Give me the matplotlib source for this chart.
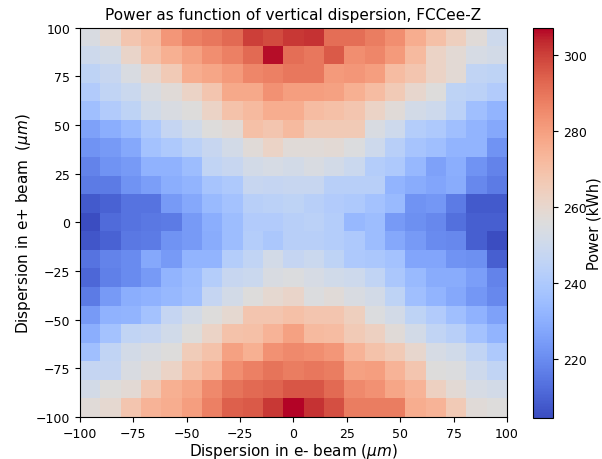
import numpy as np
import matplotlib
matplotlib.use("Agg")
import matplotlib.pyplot as plt

# power (kWh) on a 21x21 grid, rows from e+ = +100 (top) down to -100
power = np.array([
    [254, 259, 268, 272, 282, 287, 289, 292, 300, 298, 301, 302, 291, 291, 288, 284, 276, 270, 264, 257, 250],
    [250, 252, 261, 270, 275, 279, 284, 287, 292, 306, 291, 289, 295, 284, 286, 281, 272, 262, 258, 253, 252],
    [245, 248, 254, 260, 266, 276, 278, 281, 286, 287, 289, 289, 281, 282, 280, 271, 268, 262, 258, 246, 245],
    [241, 246, 249, 254, 257, 262, 268, 277, 277, 283, 280, 280, 279, 275, 271, 266, 260, 256, 245, 244, 241],
    [236, 241, 245, 251, 254, 256, 262, 269, 272, 276, 276, 271, 270, 268, 262, 257, 252, 250, 244, 236, 232],
    [226, 230, 234, 240, 247, 251, 256, 258, 270, 268, 272, 266, 266, 266, 254, 250, 242, 240, 236, 232, 228],
    [222, 224, 228, 237, 240, 244, 248, 252, 257, 262, 257, 257, 258, 255, 250, 243, 238, 236, 232, 232, 222],
    [218, 222, 224, 231, 231, 235, 246, 248, 252, 253, 252, 254, 252, 249, 242, 240, 233, 226, 230, 222, 218],
    [216, 216, 222, 225, 230, 232, 238, 240, 248, 247, 248, 248, 243, 243, 243, 232, 229, 227, 229, 219, 216],
    [208, 210, 214, 214, 224, 228, 234, 237, 243, 244, 245, 243, 241, 240, 237, 234, 222, 223, 216, 208, 208],
    [205, 212, 214, 215, 216, 224, 230, 235, 241, 241, 243, 244, 242, 233, 235, 224, 221, 219, 213, 209, 209],
    [207, 210, 215, 216, 222, 224, 229, 235, 242, 239, 243, 243, 242, 240, 235, 228, 224, 220, 219, 209, 205],
    [214, 218, 220, 228, 224, 232, 232, 242, 246, 252, 247, 249, 245, 240, 239, 237, 227, 227, 222, 221, 209],
    [211, 217, 220, 224, 232, 235, 242, 248, 249, 254, 255, 253, 251, 250, 246, 239, 234, 229, 229, 225, 218],
    [216, 224, 230, 231, 233, 236, 247, 252, 256, 259, 261, 255, 257, 254, 252, 245, 236, 232, 228, 223, 219],
    [224, 231, 232, 237, 247, 252, 256, 259, 268, 268, 270, 268, 268, 264, 255, 252, 245, 241, 236, 231, 226],
    [230, 237, 246, 247, 251, 256, 262, 269, 270, 274, 279, 272, 271, 266, 263, 257, 252, 246, 243, 237, 232],
    [236, 246, 252, 254, 256, 265, 269, 279, 275, 283, 285, 284, 282, 274, 269, 266, 260, 253, 251, 246, 240],
    [247, 247, 254, 257, 262, 270, 274, 284, 287, 290, 288, 289, 288, 279, 280, 274, 268, 256, 255, 250, 246],
    [252, 256, 258, 267, 275, 278, 285, 290, 292, 293, 296, 296, 292, 285, 283, 278, 274, 263, 258, 253, 252],
    [257, 259, 268, 274, 276, 280, 287, 294, 295, 301, 307, 302, 297, 288, 288, 288, 276, 274, 266, 257, 256],
])
ticks = [-100, -75, -50, -25, 0, 25, 50, 75, 100]
cbar_ticks = [220, 240, 260, 280, 300]

fig = plt.figure(figsize=(6.02, 4.6), dpi=100)
ax = fig.add_axes([0.133, 0.091, 0.709, 0.847])
cax = fig.add_axes([0.886, 0.089, 0.033, 0.848])

im = ax.imshow(power, cmap='coolwarm', extent=[-100, 100, -100, 100],
               aspect='auto', interpolation='nearest', vmin=204.5, vmax=307)
ax.set_xticks(ticks)
ax.set_yticks(ticks)
ax.tick_params(labelsize=9)
ax.set_title('Power as function of vertical dispersion, FCCee-Z', fontsize=11)
ax.set_xlabel(r'Dispersion in e- beam ($\mu m$)', fontsize=11, labelpad=1)
ax.set_ylabel(r'Dispersion in e+ beam  ($\mu m$)', fontsize=11, labelpad=2)

cb = fig.colorbar(im, cax=cax)
cb.set_ticks(cbar_ticks)
cb.ax.tick_params(labelsize=9)
cb.set_label('Power (kWh)', fontsize=10.5, labelpad=0)

fig.savefig('out.png', dpi=100)
